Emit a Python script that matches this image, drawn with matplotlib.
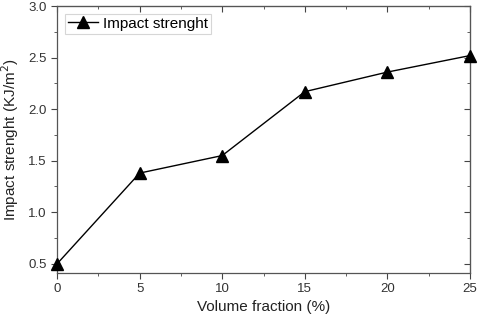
import numpy as np
import matplotlib.pyplot as plt
from matplotlib.ticker import MultipleLocator

plt.rcParams['font.family'] = ['Liberation Sans', 'DejaVu Sans']

# данные
volume_fraction = [0, 5, 10, 15, 20, 25]
impact_strength = [0.50, 1.38, 1.55, 2.17, 2.36, 2.52]

fig = plt.figure(figsize=(4.8, 3.22), dpi=100)
ax = fig.add_axes([0.119, 0.152, 0.860, 0.829])

ax.plot(volume_fraction, impact_strength, color='black', lw=1.0,
        marker='^', markersize=9, label='Impact strenght', clip_on=False, zorder=3)

ax.set_xlim(0, 25)
ax.set_ylim(0.41, 3.0)
ax.xaxis.set_major_locator(MultipleLocator(5))
ax.xaxis.set_minor_locator(MultipleLocator(2.5))
ax.yaxis.set_major_locator(MultipleLocator(0.5))
ax.yaxis.set_minor_locator(MultipleLocator(0.25))

ax.tick_params(which='both', direction='out', colors='#444444', labelcolor='#333333', labelsize=9.5)
ax.tick_params(which='major', length=4)
ax.tick_params(which='minor', length=2.5)
for s in ax.spines.values():
    s.set_color('#555555')
    s.set_linewidth(0.9)

# зеркальные оси с внутренними тиками
top = ax.secondary_xaxis('top')
top.xaxis.set_major_locator(MultipleLocator(5))
top.xaxis.set_minor_locator(MultipleLocator(2.5))
top.tick_params(which='both', direction='in', labeltop=False, colors='#444444')
top.tick_params(which='major', length=4)
top.tick_params(which='minor', length=2.5)
top.spines['top'].set_color('#555555')
right = ax.secondary_yaxis('right')
right.yaxis.set_major_locator(MultipleLocator(0.5))
right.yaxis.set_minor_locator(MultipleLocator(0.25))
right.tick_params(which='both', direction='in', labelright=False, colors='#444444')
right.tick_params(which='major', length=4)
right.tick_params(which='minor', length=2.5)
right.spines['right'].set_color('#555555')

ax.set_xlabel('Volume fraction (%)', fontsize=11, color='#222222', labelpad=3)
ax.set_ylabel('Impact strenght (KJ/m$^2$)', fontsize=11, color='#222222', labelpad=5)

leg = ax.legend(loc='upper left', fontsize=11, frameon=True, fancybox=False,
                handlelength=2.0, borderpad=0.2, borderaxespad=0.5, handletextpad=0.3)
leg.get_frame().set_edgecolor('#cccccc')
leg.get_frame().set_linewidth(0.8)

fig.savefig('out.png', dpi=100)
